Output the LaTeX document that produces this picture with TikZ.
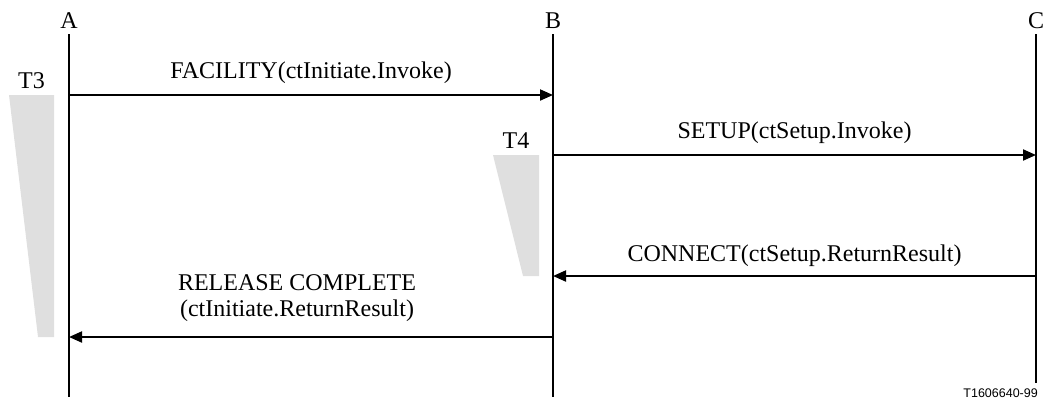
\documentclass[tikz,border=0pt]{standalone}
\usepackage{fontspec}
\setmainfont{Liberation Serif}
\newfontfamily\idfont{Liberation Sans}
\usetikzlibrary{arrows.meta, positioning, calc}
\tikzset{%
	party/.style={anchor=base, inner sep=0mm, font=\fontsize{24}{26}\selectfont},
	lifeline/.style={line width=2pt},
	msg/.style={line width=2pt, -{Triangle[length=13pt, width=11pt]}},
	lbl/.style={above=10pt, inner sep=0mm, align=center, font=\fontsize{24}{26}\selectfont},
	timer/.style={fill=gray!25},
	tname/.style={anchor=base, inner sep=0mm, font=\fontsize{24}{26}\selectfont},
	figid/.style={anchor=base east, inner sep=0mm, font=\idfont\fontsize{12.5}{14}\selectfont}
}
\begin{document}
\begin{tikzpicture}[x=1pt, y=-1pt]
	\useasboundingbox (0,0) rectangle (1046,400);
	% parties
	\node[party] (A) at (69,28) {A};
	\node[party] (B) at (553,28) {B};
	\node[party] (C) at (1036,28) {C};
	\coordinate (Abot) at (69,397);
	\coordinate (Bbot) at (553,397);
	\coordinate (Cbot) at (1036,383);
	\draw[lifeline] ([yshift=-6pt]A.south) -- (Abot);
	\draw[lifeline] ([yshift=-6pt]B.south) -- (Bbot);
	\draw[lifeline] ([yshift=-6pt]C.south) -- (Cbot);

	% timers
	\fill[timer] (9,95) -- (54,95) -- (54,337) -- (38,337) -- cycle;
	\node[tname] (T3) at (31.5,88) {T3};
	\fill[timer] (493,155) -- (539,155) -- (539,276) -- (523,276) -- cycle;
	\node[tname] (T4) at (516,148) {T4};

	% messages
	\coordinate (a1) at (69,95);
	\coordinate (b1) at (553,95);
	\coordinate (b2) at (553,155);
	\coordinate (c2) at (1036,155);
	\coordinate (c3) at (1036,276);
	\coordinate (b3) at (553,276);
	\coordinate (b4) at (553,337);
	\coordinate (a4) at (69,337);
	\draw[msg] (a1) to node[lbl] {FACILITY(ctInitiate.Invoke)} (b1);
	\draw[msg] (b2) to node[lbl] {SETUP(ctSetup.Invoke)} (c2);
	\draw[msg] (c3) to node[lbl, above=8pt] {CONNECT(ctSetup.ReturnResult)} (b3);
	\draw[msg] (b4) to node[lbl, above=14pt, xshift=-14pt] {RELEASE COMPLETE\\(ctInitiate.ReturnResult)} (a4);

	\node[figid] (fig) at (1038,397) {T1606640-99};
\end{tikzpicture}
\end{document}
